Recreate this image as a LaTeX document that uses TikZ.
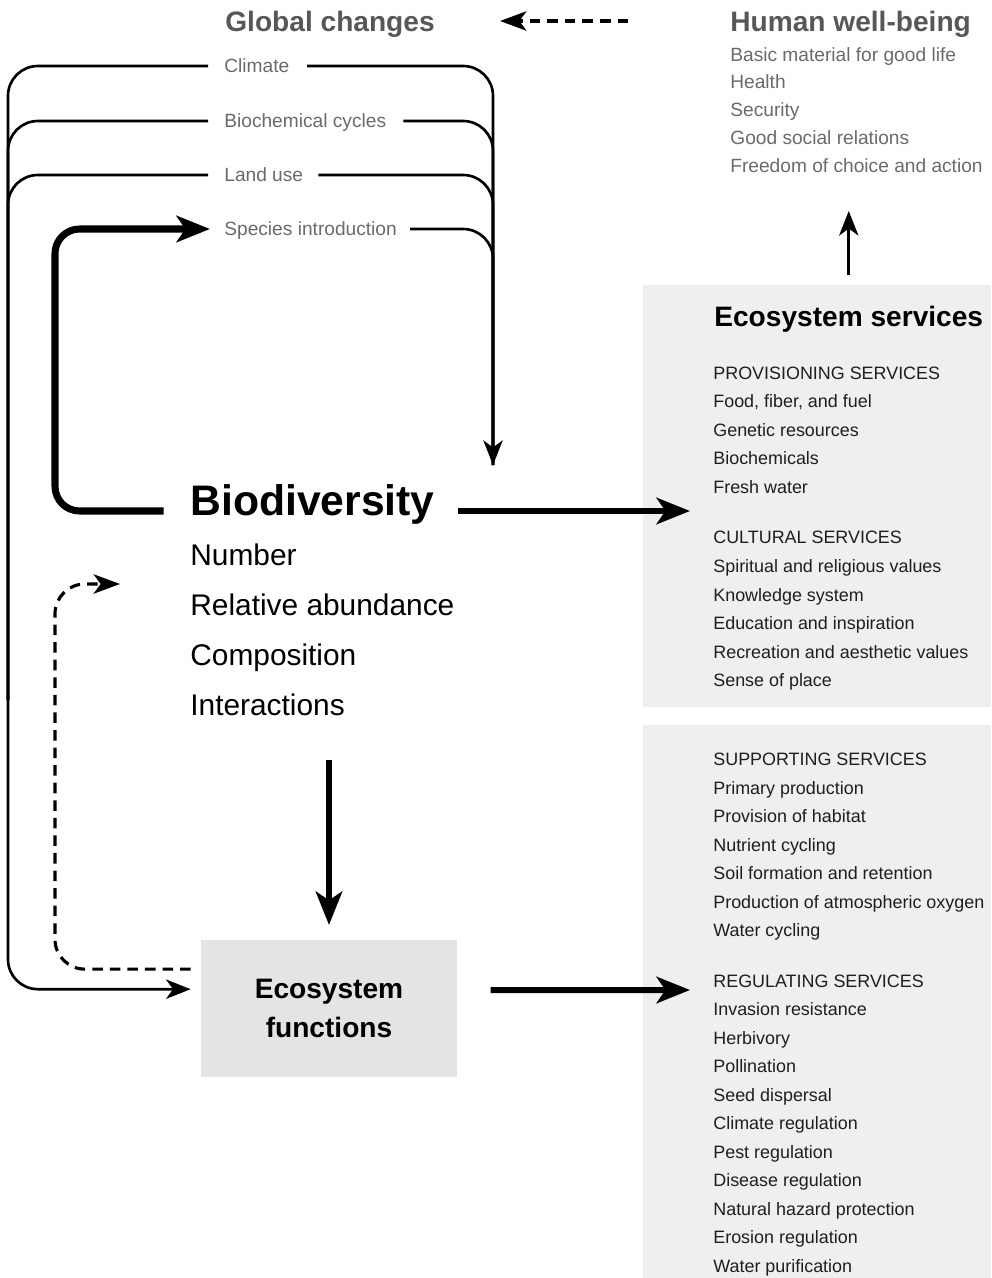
\documentclass[tikz,border=0pt]{standalone}
\usepackage{fontspec}
\setmainfont{Liberation Sans}
\usetikzlibrary{arrows.meta}
\definecolor{greytext}{HTML}{575757}
\definecolor{lighttext}{HTML}{6A6A6A}
\definecolor{darktext}{HTML}{1E1E1E}
\definecolor{panel}{HTML}{EFEFEF}
\definecolor{funcbox}{HTML}{E4E4E4}

\begin{document}
\begin{tikzpicture}[x=0.02cm, y=0.02cm]
\tikzstyle{every node}+=[inner sep=0pt]
\tikzstyle{headtext}=[anchor=west, font=\fontsize{16}{19}\selectfont\bfseries, text height=11.5pt, text depth=0pt]
\tikzstyle{gcitem}=[anchor=west, text=lighttext, font=\fontsize{10.9}{13}\selectfont, text height=7.8pt, text depth=0pt]
\tikzstyle{svcitem}=[anchor=west, text=darktext, font=\fontsize{10.2}{12}\selectfont, text height=7.3pt, text depth=0pt]
\tikzstyle{biditem}=[anchor=west, font=\fontsize{17}{20}\selectfont, text height=12.2pt, text depth=0pt]
\tikzstyle{thinline}=[black, line width=1.5pt, rounded corners=17pt]
\tikzstyle{thinarrow}=[thinline, -{Stealth[length=14pt,width=11pt,inset=4pt]}]
\tikzstyle{fatarrow}=[black, line width=3.4pt, -{Stealth[length=19pt,width=15pt,inset=5pt]}]
\tikzstyle{fatloop}=[fatarrow, line width=4pt, rounded corners=14pt]
\tikzstyle{dasharrow}=[black, line width=1.8pt, dash pattern=on 6pt off 4pt, rounded corners=17pt, -{Stealth[length=15pt,width=11pt,inset=4pt]}]
\useasboundingbox (0,0) rectangle (991,-1278);

% service panels
\fill[panel] (643,-285) rectangle (991,-707);
\fill[panel] (643,-725) rectangle (991,-1278);

% global changes
\node[headtext, text=greytext] (gc) at (225,-21) {Global changes};
\node[gcitem] (clim) at (224,-66) {Climate};
\node[gcitem] (biochem) at (224,-121) {Biochemical cycles};
\node[gcitem] (land) at (224,-175) {Land use};
\node[gcitem] (spec) at (224,-229) {Species introduction};

% human well-being
\node[headtext, text=greytext] (hwb) at (730,-21) {Human well-being};
\node[gcitem] (hwb1) at (730,-55) {Basic material for good life};
\node[gcitem] (hwb2) at (730,-82) {Health};
\node[gcitem] (hwb3) at (730,-110) {Security};
\node[gcitem] (hwb4) at (730,-138) {Good social relations};
\node[gcitem] (hwb5) at (730,-166) {Freedom of choice and action};

% ecosystem services
\node[headtext] (es) at (714,-316) {Ecosystem services};
\node[svcitem] (prov0) at (713,-373) {PROVISIONING SERVICES};
\node[svcitem] (prov1) at (713,-401.5) {Food, fiber, and fuel};
\node[svcitem] (prov2) at (713,-430) {Genetic resources};
\node[svcitem] (prov3) at (713,-458.5) {Biochemicals};
\node[svcitem] (prov4) at (713,-487) {Fresh water};
\node[svcitem] (cult0) at (713,-537) {CULTURAL SERVICES};
\node[svcitem] (cult1) at (713,-566) {Spiritual and religious values};
\node[svcitem] (cult2) at (713,-595) {Knowledge system};
\node[svcitem] (cult3) at (713,-623) {Education and inspiration};
\node[svcitem] (cult4) at (713,-652) {Recreation and aesthetic values};
\node[svcitem] (cult5) at (713,-680) {Sense of place};
\node[svcitem] (supp0) at (713,-759) {SUPPORTING SERVICES};
\node[svcitem] (supp1) at (713,-788) {Primary production};
\node[svcitem] (supp2) at (713,-816) {Provision of habitat};
\node[svcitem] (supp3) at (713,-845) {Nutrient cycling};
\node[svcitem] (supp4) at (713,-873) {Soil formation and retention};
\node[svcitem] (supp5) at (713,-902) {Production of atmospheric oxygen};
\node[svcitem] (supp6) at (713,-930) {Water cycling};
\node[svcitem] (reg0) at (713,-981) {REGULATING SERVICES};
\node[svcitem] (reg1) at (713,-1009) {Invasion resistance};
\node[svcitem] (reg2) at (713,-1038) {Herbivory};
\node[svcitem] (reg3) at (713,-1066) {Pollination};
\node[svcitem] (reg4) at (713,-1095) {Seed dispersal};
\node[svcitem] (reg5) at (713,-1123) {Climate regulation};
\node[svcitem] (reg6) at (713,-1152) {Pest regulation};
\node[svcitem] (reg7) at (713,-1180) {Disease regulation};
\node[svcitem] (reg8) at (713,-1209) {Natural hazard protection};
\node[svcitem] (reg9) at (713,-1237) {Erosion regulation};
\node[svcitem] (reg10) at (713,-1266) {Water purification};

% biodiversity
\node[anchor=west, font=\fontsize{24.3}{28}\selectfont\bfseries, text height=12.6pt, text depth=7.3pt] (bio) at (190,-511) {Biodiversity};
\node[biditem] (num) at (190,-555) {Number};
\node[biditem] (abund) at (190,-605) {Relative abundance};
\node[biditem] (comp) at (190,-655) {Composition};
\node[biditem] (inter) at (190,-705) {Interactions};

% ecosystem functions
\node[fill=funcbox, minimum width=145.7pt, minimum height=77.7pt, align=center, font=\fontsize{16}{22.1}\selectfont\bfseries] (ecof) at (329,-1008.5) {Ecosystem\\functions};

\coordinate (bioin) at (493,-465);
\coordinate (ltrack) at (8,-700);
\coordinate (loopx) at (55,0);
\coordinate (fbend) at (120,-584);
\coordinate (svca) at (690,-511);
\coordinate (svcb) at (690,-990);

% global changes -> biodiversity
\draw[thinline] ([xshift=9.6pt]biochem.east) -| (bioin);
\draw[thinline] ([xshift=8.5pt]land.east) -| (bioin);
\draw[thinline] ([xshift=7.4pt]spec.east) -| (bioin);
\draw[thinarrow] ([xshift=10pt]clim.east) -| (bioin);
% global changes -> ecosystem functions
\draw[thinline] ([xshift=-9pt]biochem.west) -| (ltrack);
\draw[thinline] ([xshift=-9pt]land.west) -| (ltrack);
\draw[thinarrow] ([xshift=-9pt]clim.west) -| (ltrack) |- ([xshift=-5.7pt,yshift=11pt]ecof.west);
% biodiversity -> species introduction
\draw[fatloop] ([xshift=-15pt]bio.west) -| (spec.west -| loopx) -- ([xshift=-8pt]spec.west);
% feedback of functions
\draw[dasharrow] ([xshift=-5.7pt,yshift=22.4pt]ecof.west) -| (fbend -| loopx) -- (fbend);
% to ecosystem services
\draw[fatarrow] ([xshift=13pt]bio.east) -- (svca);
\draw[fatarrow] ([xshift=19pt,yshift=10.5pt]ecof.east) -- (svcb);
\draw[fatarrow, shorten <=25pt, shorten >=8.5pt] (ecof.north |- inter.south) -- (ecof.north);
% services -> well-being -> global changes
\draw[thinarrow, shorten <=17.6pt, shorten >=21.5pt] (es.north) -- (es.north |- hwb5.south);
\draw[dasharrow, shorten <=58pt, shorten >=37pt] (hwb.west) -- (gc.east);
\end{tikzpicture}
\end{document}
